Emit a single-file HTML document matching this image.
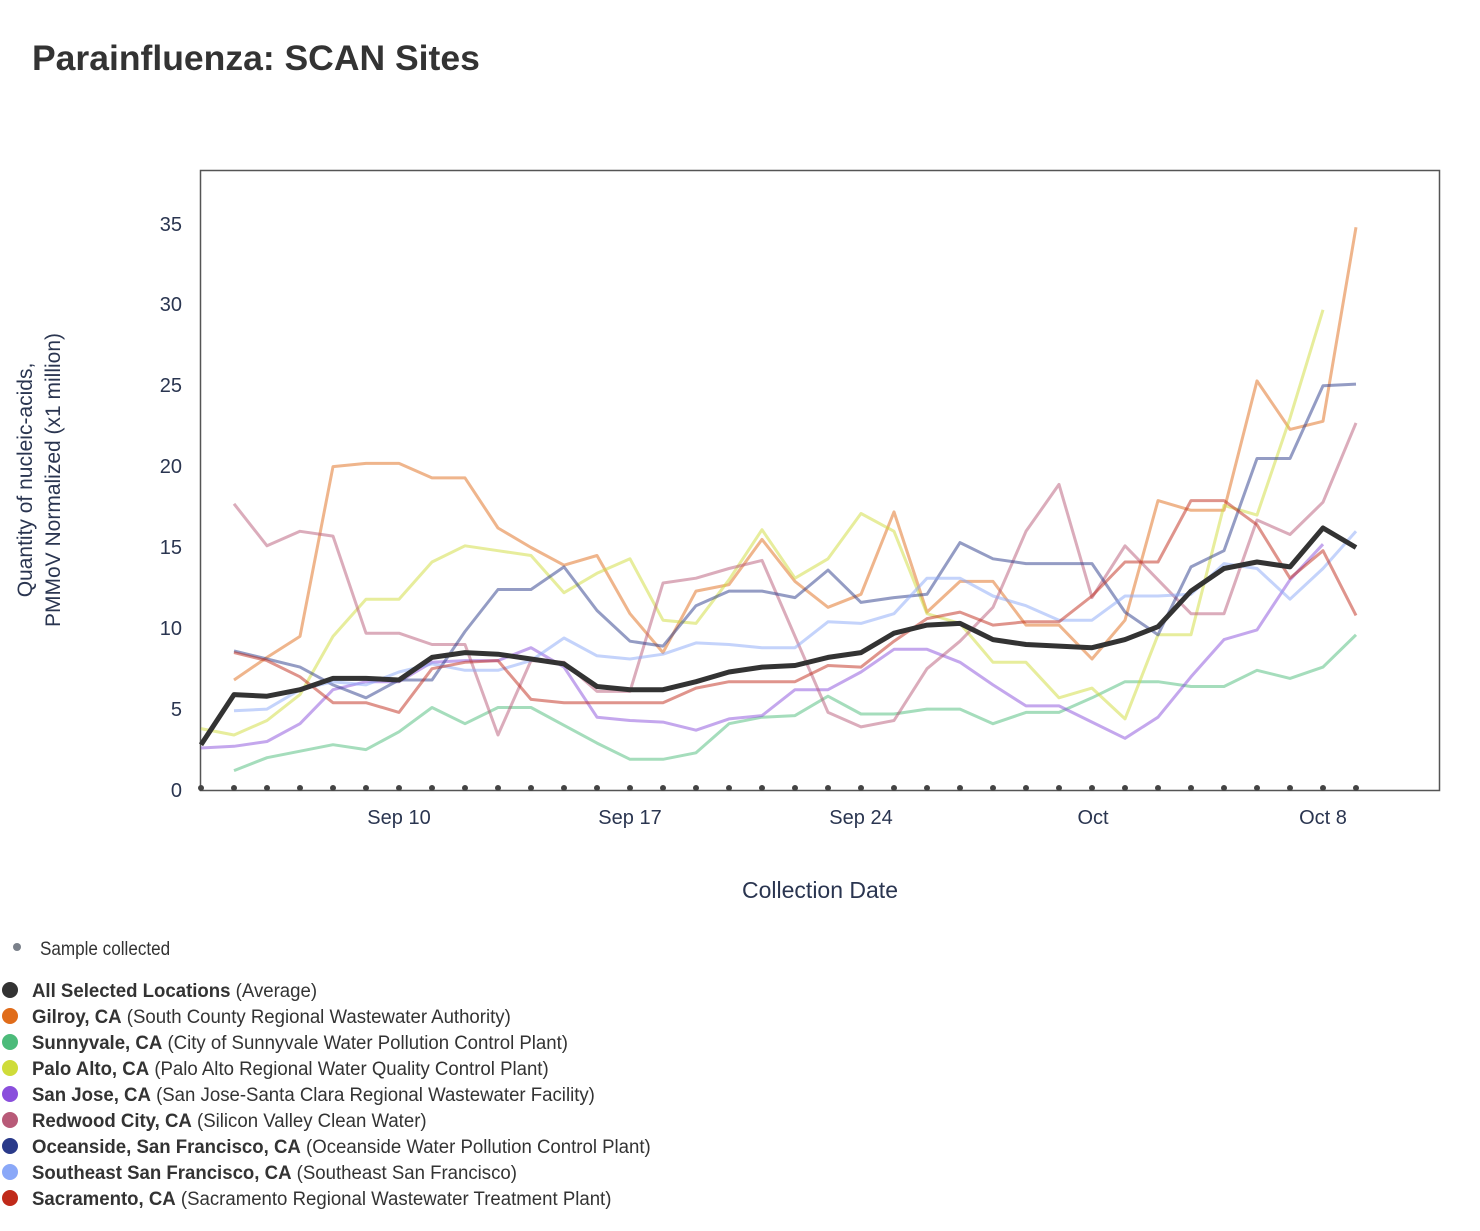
<!DOCTYPE html>
<html><head><meta charset="utf-8"><style>
body{margin:0;background:#fff;width:1480px;height:1226px;overflow:hidden;font-family:"Liberation Sans",sans-serif}
</style></head><body>
<svg id="s" width="1480" height="1226" xmlns="http://www.w3.org/2000/svg" font-family="Liberation Sans, sans-serif">
<text x="32" y="70" font-size="35.5" font-weight="bold" fill="#333">Parainfluenza: SCAN Sites</text>
<rect x="200.5" y="170.5" width="1239" height="620" fill="none" stroke="#555" stroke-width="1.5"/>
<g font-size="20" fill="#2a3550" text-anchor="end">
<text x="182" y="797">0</text><text x="182" y="716">5</text><text x="182" y="635">10</text><text x="182" y="554">15</text><text x="182" y="473">20</text><text x="182" y="392">25</text><text x="182" y="311">30</text><text x="182" y="231">35</text>
</g>
<g font-size="20" fill="#2a3550" text-anchor="middle">
<text x="399" y="824">Sep 10</text><text x="630" y="824">Sep 17</text><text x="861" y="824">Sep 24</text><text x="1093" y="824">Oct</text><text x="1323" y="824">Oct 8</text>
<text x="820" y="898" font-size="23">Collection Date</text>
</g>
<g font-size="21" fill="#2a3550" text-anchor="middle">
<text transform="translate(32,480) rotate(-90)">Quantity of nucleic-acids,</text>
<text transform="translate(60,480) rotate(-90)">PMMoV Normalized (x1 million)</text>
</g>
<g id="lines"></g>
<g id="dots" fill="#444"></g>
<g font-size="19" fill="#333">
<circle cx="17" cy="947" r="4" fill="#7a808a"/>
<text x="40" y="955" transform="translate(40,0) scale(0.9,1) translate(-40,0)">Sample collected</text>
</g>
<g id="leg" font-size="19" fill="#333"></g>
</svg>
<script>
const X=i=>201+33*i, Y=v=>790-16.17*v;
const N=null;
const series=[
["#e06c1a",[N,6.8,8.2,9.5,20.0,20.2,20.2,19.3,19.3,16.2,15.0,13.9,14.5,10.9,8.5,12.3,12.7,15.5,12.9,11.3,12.1,17.2,11.0,12.9,12.9,10.2,10.2,8.1,10.5,17.9,17.3,17.3,25.3,22.3,22.8,34.8]],
["#4cbb7a",[N,1.2,2.0,2.4,2.8,2.5,3.6,5.1,4.1,5.1,5.1,4.0,2.9,1.9,1.9,2.3,4.1,4.5,4.6,5.8,4.7,4.7,5.0,5.0,4.1,4.8,4.8,5.7,6.7,6.7,6.4,6.4,7.4,6.9,7.6,9.6]],
["#cfdc3a",[3.8,3.4,4.3,5.9,9.5,11.8,11.8,14.1,15.1,14.8,14.5,12.2,13.4,14.3,10.5,10.3,13.0,16.1,13.1,14.3,17.1,16.0,10.9,10.3,7.9,7.9,5.7,6.3,4.4,9.6,9.6,17.6,17.0,23.0,29.7,N]],
["#8a4fdc",[2.6,2.7,3.0,4.1,6.2,6.7,6.7,7.9,8.0,8.0,8.8,7.6,4.5,4.3,4.2,3.7,4.4,4.6,6.2,6.2,7.3,8.7,8.7,7.9,6.5,5.2,5.2,4.2,3.2,4.5,7.0,9.3,9.9,13.0,15.2,N]],
["#b85a78",[N,17.7,15.1,16.0,15.7,9.7,9.7,9.0,9.0,3.4,8.0,7.9,6.1,6.1,12.8,13.1,13.7,14.2,9.5,4.8,3.9,4.3,7.5,9.2,11.3,16.0,18.9,11.9,15.1,13.0,10.9,10.9,16.7,15.8,17.8,22.7]],
["#2a3a8a",[N,8.6,8.1,7.6,6.5,5.7,6.8,6.8,9.8,12.4,12.4,13.8,11.1,9.2,8.9,11.4,12.3,12.3,11.9,13.6,11.6,11.9,12.1,15.3,14.3,14.0,14.0,14.0,11.0,9.6,13.8,14.8,20.5,20.5,25.0,25.1]],
["#8aa8f8",[N,4.9,5.0,6.2,6.7,6.5,7.3,7.8,7.4,7.4,8.0,9.4,8.3,8.1,8.4,9.1,9.0,8.8,8.8,10.4,10.3,10.9,13.1,13.1,12.0,11.4,10.5,10.5,12.0,12.0,12.1,14.0,13.7,11.8,13.7,16.0]],
["#c02a1a",[N,8.5,8.0,7.0,5.4,5.4,4.8,7.5,7.9,8.0,5.6,5.4,5.4,5.4,5.4,6.3,6.7,6.7,6.7,7.7,7.6,9.2,10.6,11.0,10.2,10.4,10.4,12.0,14.1,14.1,17.9,17.9,16.4,13.1,14.8,10.8]],
["#333",[2.8,5.9,5.8,6.2,6.9,6.9,6.8,8.2,8.5,8.4,8.1,7.8,6.4,6.2,6.2,6.7,7.3,7.6,7.7,8.2,8.5,9.7,10.2,10.3,9.3,9.0,8.9,8.8,9.3,10.1,12.3,13.7,14.1,13.8,16.2,15.0]]
];
const NS="http://www.w3.org/2000/svg";
const g=document.getElementById("lines");
series.forEach((s,k)=>{
 const pts=[];s[1].forEach((v,i)=>{if(v!==null)pts.push(X(i).toFixed(1)+","+Y(v).toFixed(1))});
 const p=document.createElementNS(NS,"polyline");
 p.setAttribute("points",pts.join(" "));p.setAttribute("fill","none");
 p.setAttribute("stroke",s[0]);p.setAttribute("stroke-width",k==8?5:3);
 p.setAttribute("stroke-linejoin","round");
 if(k<8)p.setAttribute("stroke-opacity","0.5");
 g.appendChild(p);
});
const d=document.getElementById("dots");
for(let i=0;i<36;i++){const c=document.createElementNS(NS,"circle");c.setAttribute("cx",X(i));c.setAttribute("cy",788);c.setAttribute("r",3);d.appendChild(c);}
const leg=[["#333","All Selected Locations","(Average)"],["#e06c1a","Gilroy, CA","(South County Regional Wastewater Authority)"],["#4cbb7a","Sunnyvale, CA","(City of Sunnyvale Water Pollution Control Plant)"],["#cfdc3a","Palo Alto, CA","(Palo Alto Regional Water Quality Control Plant)"],["#8a4fdc","San Jose, CA","(San Jose-Santa Clara Regional Wastewater Facility)"],["#b85a78","Redwood City, CA","(Silicon Valley Clean Water)"],["#2a3a8a","Oceanside, San Francisco, CA","(Oceanside Water Pollution Control Plant)"],["#8aa8f8","Southeast San Francisco, CA","(Southeast San Francisco)"],["#c02a1a","Sacramento, CA","(Sacramento Regional Wastewater Treatment Plant)"]];
const lg=document.getElementById("leg");
leg.forEach((l,i)=>{const y=990+26*i;
 const c=document.createElementNS(NS,"circle");c.setAttribute("cx",10);c.setAttribute("cy",y);c.setAttribute("r",8);c.setAttribute("fill",l[0]);lg.appendChild(c);
 const t=document.createElementNS(NS,"text");t.setAttribute("x",32);t.setAttribute("y",y+7);
 t.setAttribute("transform","translate(32,0) scale(0.98,1) translate(-32,0)");
 const b=document.createElementNS(NS,"tspan");b.setAttribute("font-weight","bold");b.textContent=l[1];t.appendChild(b);
 t.appendChild(document.createTextNode(" "+l[2]));lg.appendChild(t);});
</script>
</body></html>
